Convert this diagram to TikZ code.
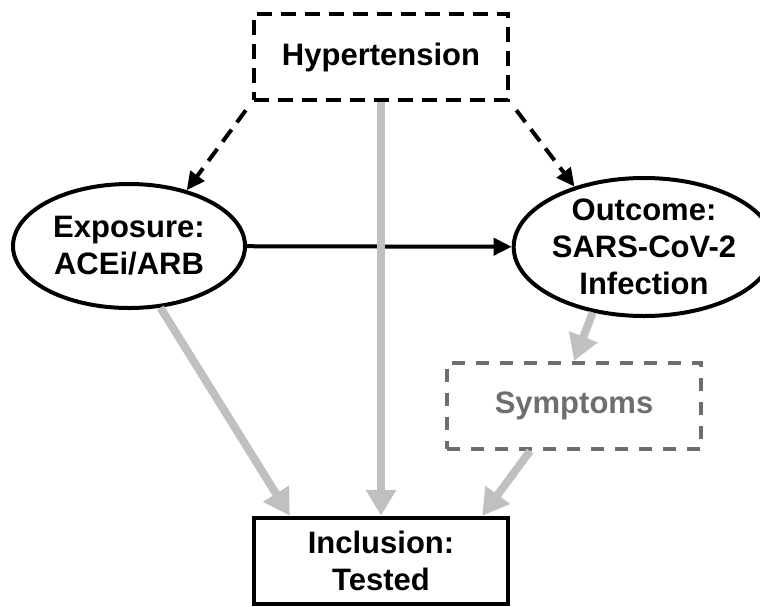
\documentclass[tikz,border=0pt]{standalone}
\usepackage{fontspec}
\setmainfont{Liberation Sans}
\usepackage{tikz}
\usetikzlibrary{positioning,shapes.geometric,calc,arrows.meta}
\definecolor{lgr}{RGB}{192,192,192}
\definecolor{dgr}{RGB}{110,110,110}

\begin{document}
\begin{tikzpicture}[x=1pt,y=-1pt,
   txt/.style={font=\fontsize{31}{37}\selectfont\bfseries,align=center,inner sep=0pt},
   vbox/.style={txt,rectangle,line width=4.5pt,minimum width=254pt,minimum height=86pt},
   vell/.style={txt,ellipse,draw,line width=4pt},
   dsh/.style={dash pattern=on 15pt off 9pt},
   blk/.style={line width=4pt,-{Triangle[length=18pt,width=17pt]}},
   gar/.style={lgr,line width=8pt,-{Triangle[length=26pt,width=29pt]}}]
\useasboundingbox (0,0) rectangle (760,606);
%% ---- nodes ----
\node[vbox,draw,dsh] (hyp) at (381,57) {Hypertension};
\node[vell,minimum width=232pt,minimum height=124pt] (exp) at (129,246) {Exposure:\\ACEi/ARB};
\node[vell,minimum width=228pt,minimum height=138pt] (out) at (644,247) {Outcome:\\SARS-CoV-2\\Infection};
\node[vbox,draw=dgr,text=dgr,line width=4pt,dash pattern=on 13pt off 11pt] (sym) at (574,406) {Symptoms};
\node[vbox,draw] (inc) at (381,561) {Inclusion:\\Tested};

%% ---- black paths ----
\draw[blk,dsh,shorten <=10pt] (hyp.south west) -- (exp.44);
\draw[blk,dsh,shorten <=10pt] (hyp.south east) -- (out.139);
\draw[blk] (exp) -- (out);

%% ---- selection paths (grey) ----
\draw[gar] (hyp) -- (inc);
\draw[gar] (exp.-63) -- ([xshift=38pt]inc.north west);
\draw[gar] (out.232) -- (sym.north);
\draw[gar] ([xshift=-44pt]sym.south) -- ([xshift=-28pt]inc.north east);
\end{tikzpicture}
\end{document}
